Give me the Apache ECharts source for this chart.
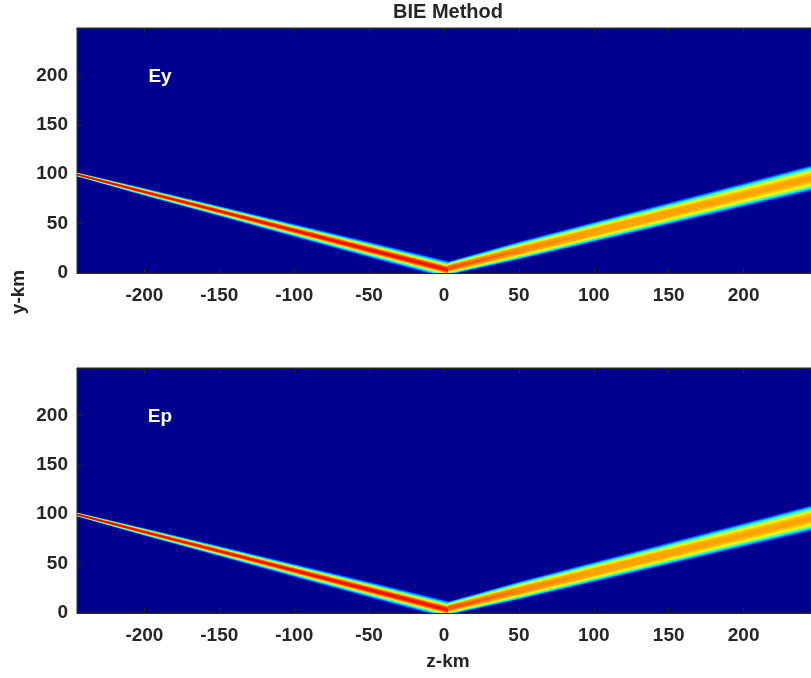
<!DOCTYPE html>
<html><head><meta charset="utf-8">
<script src="https://cdn.jsdelivr.net/npm/echarts@6/dist/echarts.min.js"></script>
<style>html,body{margin:0;padding:0;background:#fff}#c{width:811px;height:678px}</style>
</head><body><div id="c"></div>
<script>
// ---- data ----
const xTicks = [-200, -150, -100, -50, 0, 50, 100, 150, 200];
const yTicks = [0, 50, 100, 150, 200];
const panelLabels = ['Ey', 'Ep'];

// Ey panel: left (incident) beam stations
const eyLeftZ = [-245, -200, -150, -100, -50, 3];
const eyLeftY = [99.7, 82, 62.6, 43, 23.6, 3];
const eyLeftHalf = [2, 4, 5.5, 7, 8.5, 9.5];
const eyLeftPeak = [0.95, 0.9, 0.88, 0.88, 0.88, 0.87];
// Ey panel: right (reflected) beam stations
const eyRightZ = [3, 50, 100, 150, 200, 245];
const eyRightY = [4.8, 22.6, 41.4, 60.2, 79, 96];
const eyRightHalf = [7, 9.5, 10.5, 11.5, 12.5, 13.5];
const eyRightPeak = [0.8, 0.76, 0.74, 0.73, 0.72, 0.72];

// Ep panel
const epLeftZ = [-245, -200, -150, -100, -50, 3];
const epLeftY = [99.7, 82, 62.6, 43, 23.6, 3];
const epLeftHalf = [2, 4, 5.5, 7, 8.5, 9.5];
const epLeftPeak = [0.95, 0.9, 0.88, 0.88, 0.88, 0.87];
const epRightZ = [3, 50, 100, 150, 200, 245];
const epRightY = [4.8, 22.6, 41.4, 60.2, 79, 96];
const epRightHalf = [7, 9.5, 10.5, 11.5, 12.5, 13.5];
const epRightPeak = [0.8, 0.76, 0.74, 0.73, 0.72, 0.72];

// ---- rendering ----
const FONT = '"Liberation Sans", Arial, Helvetica, sans-serif';
const TXT = '#262626';
function clamp(v){ return Math.max(0, Math.min(1, v)); }
function jet(v){
  const r = clamp(1.5 - Math.abs(4*v - 3));
  const g = clamp(1.5 - Math.abs(4*v - 2));
  const b = clamp(1.5 - Math.abs(4*v - 1));
  return 'rgb(' + Math.round(r*255) + ',' + Math.round(g*255) + ',' + Math.round(b*255) + ')';
}
const levels = [];
for (let t = 0.14; t < 0.97; t += 0.025) levels.push(+t.toFixed(3));

const panels = [
  [ {z: eyLeftZ, y: eyLeftY, half: eyLeftHalf, peak: eyLeftPeak, p: 2.2},
    {z: eyRightZ, y: eyRightY, half: eyRightHalf, peak: eyRightPeak, p: 3.5} ],
  [ {z: epLeftZ, y: epLeftY, half: epLeftHalf, peak: epLeftPeak, p: 2.2},
    {z: epRightZ, y: epRightY, half: epRightHalf, peak: epRightPeak, p: 3.5} ]
];

function makeRender(beams){
  return function(params, api){
    const b = beams[api.value(0)];
    const t = api.value(1);
    const upper = [], lower = [];
    let any = false;
    for (let i = 0; i < b.z.length; i++) {
      const pk = b.peak[i];
      let d = 0;
      if (t < pk) { d = b.half[i] * Math.pow(Math.log(pk/t)/Math.log(pk/0.12), 1/b.p); any = true; }
      upper.push(api.coord([b.z[i], b.y[i] + d]));
      lower.unshift(api.coord([b.z[i], b.y[i] - d]));
    }
    if (!any) return null;
    return {type: 'polygon', shape: {points: upper.concat(lower)}, style: {fill: jet(t)}};
  };
}

const grids = [], xAxes = [], yAxes = [], series = [];
const tops = [28, 368];
panels.forEach(function(beams, k){
  grids.push({left: 77, right: -6, top: tops[k], height: 245, show: true,
    backgroundColor: '#00008F', borderColor: TXT, borderWidth: 1});
  xAxes.push({type: 'value', gridIndex: k, min: -245, max: 245, position: 'bottom',
    axisLine: {show: true, onZero: false, lineStyle: {color: TXT, width: 1}},
    axisTick: {show: true, inside: true, length: 5, customValues: xTicks, lineStyle: {color: TXT}},
    axisLabel: {customValues: xTicks, fontFamily: FONT, fontSize: 19, fontWeight: 'bold', color: TXT, margin: 13},
    splitLine: {show: false}});
  xAxes.push({type: 'value', gridIndex: k, min: -245, max: 245, position: 'top',
    axisLine: {show: true, onZero: false, lineStyle: {color: TXT, width: 1}},
    axisTick: {show: true, inside: true, length: 5, customValues: xTicks, lineStyle: {color: TXT}},
    axisLabel: {show: false}, splitLine: {show: false}});
  yAxes.push({type: 'value', gridIndex: k, min: 0, max: 248, position: 'left',
    axisLine: {show: true, onZero: false, lineStyle: {color: TXT, width: 1}},
    axisTick: {show: true, inside: true, length: 5, customValues: yTicks, lineStyle: {color: TXT}},
    axisLabel: {customValues: yTicks, fontFamily: FONT, fontSize: 19, fontWeight: 'bold', color: TXT, margin: 9},
    splitLine: {show: false}});
  const data = [];
  for (let bi = 0; bi < beams.length; bi++) for (const t of levels) data.push([bi, t]);
  series.push({type: 'custom', xAxisIndex: 2*k, yAxisIndex: k, clip: true, silent: true,
    renderItem: makeRender(beams), data: data, animation: false});
});

const chart = echarts.init(document.getElementById('c'), null, {renderer: 'canvas'});
chart.setOption({
  animation: false,
  grid: grids, xAxis: xAxes, yAxis: yAxes, series: series,
  graphic: [
    {type: 'text', x: 448, y: 12, style: {text: 'BIE Method', font: 'bold 20px ' + FONT, fill: TXT, textAlign: 'center', textVerticalAlign: 'middle'}},
    {type: 'text', x: 19, y: 292, rotation: Math.PI/2, style: {text: 'y-km', font: 'bold 19px ' + FONT, fill: TXT, textAlign: 'center', textVerticalAlign: 'middle'}},
    {type: 'text', x: 448, y: 662, style: {text: 'z-km', font: 'bold 19px ' + FONT, fill: TXT, textAlign: 'center', textVerticalAlign: 'middle'}},
    {type: 'text', x: 160, y: 77, z: 100, style: {text: panelLabels[0], font: 'bold 19px ' + FONT, fill: '#ffffff', textAlign: 'center', textVerticalAlign: 'middle'}},
    {type: 'text', x: 160, y: 417, z: 100, style: {text: panelLabels[1], font: 'bold 19px ' + FONT, fill: '#ffffff', textAlign: 'center', textVerticalAlign: 'middle'}}
  ]
});
</script></body></html>
